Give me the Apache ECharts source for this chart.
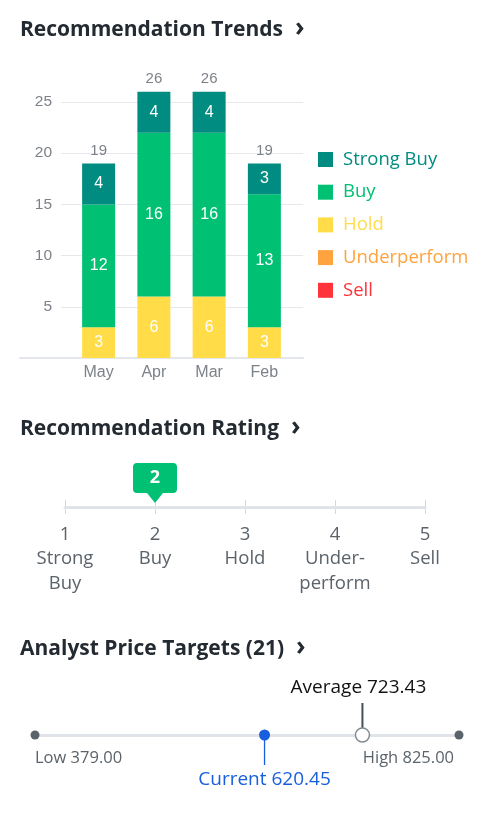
<!DOCTYPE html>
<html>
<head>
<meta charset="utf-8">
<script src="https://cdn.jsdelivr.net/npm/echarts@6/dist/echarts.min.js"></script>
<style>
html,body{margin:0;padding:0;background:#fff;}
#c{width:486px;height:813px;}
</style>
</head>
<body>
<div id="c"></div>
<script>
// ---- data ----
var months = ['May', 'Apr', 'Mar', 'Feb'];
var strongBuy = [4, 4, 4, 3];
var buy = [12, 16, 16, 13];
var hold = [3, 6, 6, 3];
var underperform = [0, 0, 0, 0];
var sell = [0, 0, 0, 0];
var seriesNames = ['Strong Buy', 'Buy', 'Hold', 'Underperform', 'Sell'];
var seriesColors = ['#008c80', '#00c073', '#ffdc48', '#ffa33f', '#ff333a'];

var ratingTicks = ['1', '2', '3', '4', '5'];
var ratingNames = ['Strong\nBuy', 'Buy', 'Hold', 'Under-\nperform', 'Sell'];
var ratingValue = 2;

var priceLow = 379.00;
var priceHigh = 825.00;
var priceCurrent = 620.45;
var priceAverage = 723.43;
var priceTargetCount = 21;

// ---- derived ----
var totals = months.map(function (m, i) {
  return strongBuy[i] + buy[i] + hold[i] + underperform[i] + sell[i];
});

var chart = echarts.init(document.getElementById('c'), null, {renderer: 'canvas'});

var titleFont = '"Open Sans", "Noto Sans", sans-serif';
var numFont = '"Liberation Sans", Arial, sans-serif';
var gray = '#5b636a';
var blue = '#175fdc';
function mkTitle(text, top) {
  return {
    text: '{t|' + text + '}{c|›}',
    left: 20, top: top, padding: 0,
    textStyle: {
      rich: {
        t: {fontFamily: titleFont, fontWeight: 'bold', fontSize: 21, color: '#232a31'},
        c: {fontFamily: titleFont, fontWeight: 'bold', fontSize: 26, color: '#232a31', padding: [0, 0, 3, 12]}
      }
    }
  };
}

function hideZero(p) { return p.value ? String(p.value) : ''; }

var stackData = [sell, underperform, hold, buy, strongBuy];
var stackNames = ['Sell', 'Underperform', 'Hold', 'Buy', 'Strong Buy'];
var barSeries = stackData.map(function (d, k) {
  var name = stackNames[k];
  var col = seriesColors[seriesNames.indexOf(name)];
  return {
    name: name, type: 'bar', stack: 'rec', xAxisIndex: 2, yAxisIndex: 2,
    data: d, barWidth: 33, barGap: '-100%', clip: false,
    itemStyle: {color: col},
    label: {show: true, position: 'inside', color: '#fff', fontSize: 16,
      fontFamily: numFont, formatter: hideZero},
    emphasis: {disabled: true}, z: 3
  };
});
barSeries.push({
  name: 'Total', type: 'bar', xAxisIndex: 2, yAxisIndex: 2, data: totals,
  barWidth: 33, barGap: '-100%', clip: false,
  itemStyle: {color: 'rgba(0,0,0,0)'},
  label: {show: true, position: 'top', distance: 5, color: '#7d8288', fontSize: 15,
    fontFamily: numFont},
  emphasis: {disabled: true}, z: 1, silent: true
});

var markerPath = 'path://M4,0 H40 Q44,0 44,4 V26 Q44,30 40,30 H30 L22,40 L14,30 H4 Q0,30 0,26 V4 Q0,0 4,0 Z';

var option = {
  animation: false,
  title: [
    mkTitle('Recommendation Trends', 16),
    mkTitle('Recommendation Rating', 415),
    mkTitle('Analyst Price Targets (' + priceTargetCount + ')', 635)
  ],
  legend: {
    orient: 'vertical', left: 318, top: 150, padding: 0,
    itemWidth: 15, itemHeight: 15, itemGap: 13.7,
    icon: 'rect', selectedMode: false,
    textStyle: {fontSize: 18.5, fontFamily: titleFont, padding: [0, 0, 0, 5]},
    data: seriesNames.map(function (n, i) {
      return {name: n, itemStyle: {color: seriesColors[i]}, textStyle: {color: seriesColors[i]}};
    })
  },
  grid: [
    {left: 20, right: 183, top: 102, bottom: 455},
    {left: 61, right: 183, top: 102, bottom: 455},
    {left: 71, right: 194, top: 102, bottom: 455},
    {left: 65, width: 360, top: 500, height: 14},
    {left: 35, width: 424, top: 695, height: 80}
  ],
  xAxis: [
    {gridIndex: 0, type: 'category', data: months,
      axisLine: {show: true, lineStyle: {color: '#e3e6ea', width: 2}},
      axisTick: {show: false}, axisLabel: {show: false}, splitLine: {show: false}},
    {gridIndex: 1, type: 'category', data: months,
      axisLine: {show: false}, axisTick: {show: false}, axisLabel: {show: false}, splitLine: {show: false}},
    {gridIndex: 2, type: 'category', data: months,
      axisLine: {show: false}, axisTick: {show: false}, splitLine: {show: false},
      axisLabel: {color: '#7d8288', fontSize: 16, margin: 7, fontFamily: numFont}},
    {gridIndex: 3, type: 'value', min: 1, max: 5, interval: 1,
      axisLine: {show: true, onZero: true, lineStyle: {color: '#e0e3e8', width: 3}},
      axisTick: {show: false},
      splitLine: {show: true, lineStyle: {color: '#d5d9de', width: 1}},
      axisLabel: {margin: 8, color: gray, fontSize: 18.5, lineHeight: 24.5, fontFamily: titleFont,
        formatter: function (v) { var i = Math.round(v) - 1; return ratingTicks[i] + '\n' + ratingNames[i]; }}},
    {gridIndex: 4, type: 'value', min: priceLow, max: priceHigh,
      axisLine: {show: true, onZero: true, lineStyle: {color: '#e0e3e8', width: 3}},
      axisTick: {show: false}, axisLabel: {show: false}, splitLine: {show: false}}
  ],
  yAxis: [
    {gridIndex: 0, type: 'value', min: 0, max: 25, show: false, splitLine: {show: false}},
    {gridIndex: 1, type: 'value', min: 0, max: 25, interval: 5,
      axisLine: {show: false}, axisTick: {show: false},
      splitLine: {show: true, lineStyle: {color: '#e6e8ec', width: 1}},
      axisLabel: {margin: 9, color: '#7d8288', fontSize: 15.5, fontFamily: numFont,
        formatter: function (v) { return v === 0 ? '' : String(v); }}},
    {gridIndex: 2, type: 'value', min: 0, max: 25, show: false, splitLine: {show: false}},
    {gridIndex: 3, type: 'value', min: -1, max: 1, show: false, splitLine: {show: false}},
    {gridIndex: 4, type: 'value', min: -1, max: 1, show: false, splitLine: {show: false}}
  ],
  series: barSeries.concat([
    {
      name: 'rating', type: 'scatter', xAxisIndex: 3, yAxisIndex: 3,
      data: [[ratingValue, 0]], symbol: markerPath, symbolSize: [44, 40], symbolOffset: [0, -24],
      itemStyle: {color: '#00c073', opacity: 1}, z: 5, silent: true,
      label: {show: true, position: 'inside', offset: [0, -5], color: '#fff', fontSize: 18,
        fontWeight: 'bold', fontFamily: titleFont, formatter: function (p) { return String(p.value[0]); }}
    },
    {
      name: 'currentStem', type: 'line', xAxisIndex: 4, yAxisIndex: 4,
      data: [[priceCurrent, 0], [priceCurrent, -0.75]], symbol: 'none',
      lineStyle: {color: blue, width: 1.3}, z: 2, silent: true
    },
    {
      name: 'averageStem', type: 'line', xAxisIndex: 4, yAxisIndex: 4,
      data: [[priceAverage, 0.15], [priceAverage, 0.8]], symbol: 'none',
      lineStyle: {color: '#464e56', width: 2}, z: 2, silent: true
    },
    {
      name: 'ends', type: 'scatter', xAxisIndex: 4, yAxisIndex: 4, silent: true, z: 4,
      data: [
        {value: [priceLow, 0], label: {align: 'left', formatter: 'Low ' + priceLow.toFixed(2)}},
        {value: [priceHigh, 0], label: {align: 'right', offset: [-5, 0], formatter: 'High ' + priceHigh.toFixed(2)}}
      ],
      symbolSize: 9, itemStyle: {color: gray, opacity: 1},
      label: {show: true, position: 'bottom', distance: 10, color: gray, fontSize: 16.5, fontFamily: titleFont}
    },
    {
      name: 'current', type: 'scatter', xAxisIndex: 4, yAxisIndex: 4, silent: true, z: 5,
      data: [[priceCurrent, 0]], symbolSize: 11, itemStyle: {color: blue, opacity: 1},
      label: {show: true, position: 'bottom', distance: 30, color: blue, fontSize: 19, fontFamily: titleFont,
        formatter: 'Current ' + priceCurrent.toFixed(2)}
    },
    {
      name: 'average', type: 'scatter', xAxisIndex: 4, yAxisIndex: 4, silent: true, z: 5,
      data: [[priceAverage, 0]], symbolSize: 14,
      itemStyle: {color: '#fff', borderColor: '#828c93', borderWidth: 1.5, opacity: 1},
      label: {show: true, position: 'top', distance: 30, offset: [-4, 0], color: '#111', fontSize: 19, fontFamily: titleFont,
        formatter: 'Average ' + priceAverage.toFixed(2)}
    }
  ])
};
chart.setOption(option);
</script>
</body>
</html>
